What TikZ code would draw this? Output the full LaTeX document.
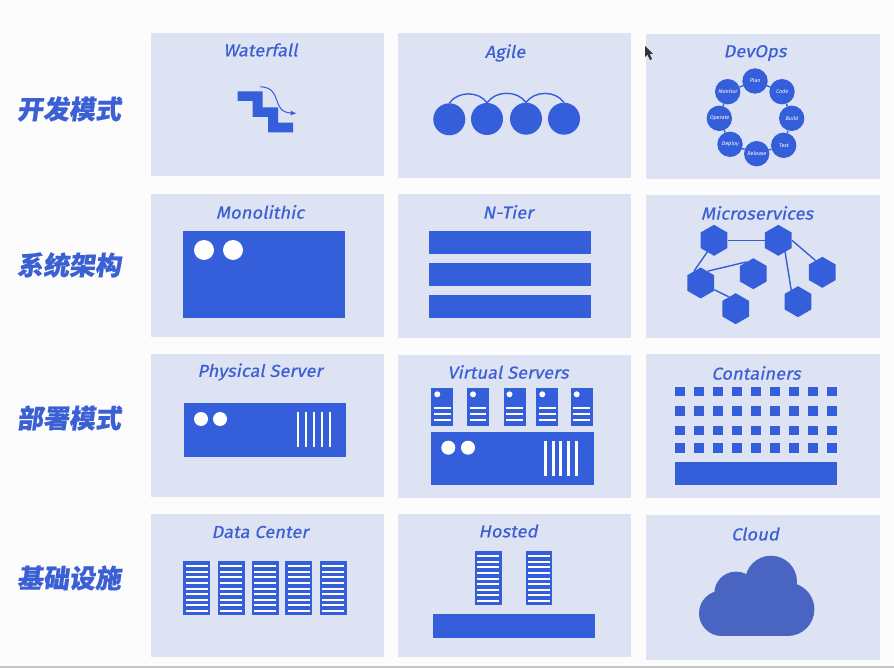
\documentclass[tikz,border=0pt]{standalone}
\usepackage{fontspec}
\usepackage{xcolor}
\usetikzlibrary{arrows.meta, shapes.geometric}
\setmainfont{Fira Sans}
\newfontfamily\titlefont[FakeSlant=0.2, FakeStretch=1.06, FakeBold=0.5]{Fira Sans}
\newfontfamily\stagefont[FakeSlant=0.2]{Fira Sans}
\newfontfamily\cjk[FakeSlant=0.14, FakeBold=0.5]{Noto Sans CJK SC}
\definecolor{figB}{RGB}{53,94,219}
\definecolor{figT}{RGB}{58,96,212}
\definecolor{figP}{RGB}{222,227,244}
\definecolor{figC}{RGB}{74,100,194}
\definecolor{figW}{RGB}{252,252,252}
\tikzset{
  panel/.style={fill=figP},
  paneltitle/.style={font=\titlefont\fontsize{17.3}{19}\selectfont, text=figT, inner sep=0pt},
  rowlabel/.style={font=\cjk\bfseries\fontsize{26}{28}\selectfont, text=figT, inner sep=0pt},
  solid box/.style={fill=figB},
  slot/.style={fill=white},
  stagedot/.style={circle, fill=figB, minimum size=25.4pt, inner sep=0pt, text=white,
    font=\stagefont\fontsize{5.4}{6}\selectfont},
  hexnode/.style={regular polygon, regular polygon sides=6, shape border rotate=30,
    fill=figB, minimum size=31pt, inner sep=0pt},
  linkline/.style={draw=figB, line width=1.4pt},
}
\begin{document}
\begin{tikzpicture}[x=1pt, y=-1pt]
\fill[figW] (0,0) rectangle (894,668);
\useasboundingbox (0,0) rectangle (894,668);
\fill[black!22] (0,665.5) rectangle (894,668);
% ===== panels and their headings =====
\foreach \xa/\ya/\xb/\yb/\tx/\ty/\ttl/\nm in {
  151/33/384/176/260.5/50/Waterfall/waterfall, 398/33/631/178/505/53/Agile/agile, 646/34/880/179/755/53/DevOps/devops,
  151/194/384/337/260/212/Monolithic/mono, 398/194/631/338/508/212/N-Tier/ntier, 646/195/880/338/757/213/Microservices/micro,
  151/354/384/497/260/372/Physical Server/physical, 398/355/631/498/508/372/Virtual Servers/virtual, 646/354/880/498/756/373/Containers/containers,
  151/514/384/657/260/532/Data Center/datacenter, 398/514/631/657/508/531/Hosted/hosted, 646/515/880/660/755/534/Cloud/cloud}{
  \fill[panel] (\xa,\ya) rectangle (\xb,\yb);
  \node[paneltitle] (title-\nm) at (\tx,\ty) {\ttl};
}
% ===== row labels =====
\node[rowlabel] (row-dev) at (69,109) {开发模式};
\node[rowlabel] (row-arch) at (69,265) {系统架构};
\node[rowlabel] (row-deploy) at (69,418) {部署模式};
\node[rowlabel] (row-infra) at (69,578) {基础设施};
% ===== waterfall: stairs and falling arrow =====
\fill[figB] (237.7,91.3) -- (262.7,91.3) -- (262.7,107.3) -- (278,107.3) -- (278,122.7) -- (293,122.7)
  -- (293,132.3) -- (268,132.3) -- (268,117) -- (252.7,117) -- (252.7,101) -- (237.7,101) -- cycle;
\draw[-{Latex[length=6pt,width=5pt]}, figB, line width=1pt] (260.3,86.7) .. controls (284,88) and (270,112) .. (296.7,113.3);
% ===== agile: four iterations =====
\foreach \n/\x/\y in {1/449.3/119.3, 2/487/119, 3/526/118.7, 4/564/118.7}
  \node[circle, fill=figB, minimum size=32pt, inner sep=0pt] (it\n) at (\x,\y) {};
\draw[linkline] (it1.north) to[out=55, in=125] (it2.north);
\draw[linkline] (it2.north) to[out=55, in=125] (it3.north);
\draw[linkline] (it3.north) to[out=55, in=125] (it4.north);
% ===== devops ring =====
\foreach \nm/\x/\y in {Plan/755/81, Code/782/91.7, Build/791.7/118.3, Test/783.7/145.3,
  Release/756.7/153.7, Deploy/730/144.3, Operate/719.3/118.3, Monitor/727.7/91.7}
  \node[stagedot] (stage-\nm) at (\x,\y) {\nm};
\draw[linkline] (stage-Plan) -- (stage-Code);
\draw[linkline] (stage-Code) -- (stage-Build);
\draw[linkline] (stage-Build) -- (stage-Test);
\draw[linkline] (stage-Test) -- (stage-Release);
\draw[linkline] (stage-Release) -- (stage-Deploy);
\draw[linkline] (stage-Deploy) -- (stage-Operate);
\draw[linkline] (stage-Operate) -- (stage-Monitor);
\draw[linkline] (stage-Monitor) -- (stage-Plan);
% ===== monolithic =====
\fill[solid box] (183,231) rectangle (345,318);
\fill[white] (204,250) circle (10) (233,250) circle (10);
% ===== n-tier =====
\foreach \ya/\yb in {231/254, 263/286, 295/318}
  \fill[solid box] (429,\ya) rectangle (591,\yb);
% ===== microservices =====
\foreach \nm/\x/\y in {a/714/240.3, b/778.3/240.3, c/822.3/272.3, d/753.3/273.7, e/700.7/283, f/798/301.7, g/735.7/308.7}
  \node[hexnode] (hex-\nm) at (\x,\y) {};
\draw[linkline] (hex-a) -- (hex-b);
\draw[linkline] (hex-a.240) -- (hex-e.120);
\draw[linkline] (hex-e.60) -- (hex-d.120);
\draw[linkline] (hex-e) -- (hex-g.120);
\draw[linkline] (hex-b.300) -- (hex-f.120);
\draw[linkline] (hex-b.0) -- (hex-c.120);
% ===== physical server =====
\fill[solid box] (184,403) rectangle (346,457);
\fill[white] (201,419) circle (7) (220,419) circle (7);
\foreach \x in {298,306,314,322,330}
  \fill[slot] (\x-1.3,412) rectangle (\x+1.3,447);
% ===== virtual servers =====
\fill[solid box] (431.3,431.7) rectangle (593.7,485.3);
\fill[white] (448.3,447.7) circle (7) (468,447.7) circle (7);
\foreach \x in {545.3,553.3,560.7,568.7,576.3}
  \fill[slot] (\x-1.3,440.7) rectangle (\x+1.3,475.7);
\foreach \x in {431.3,467,503.5,536.3,570.7}{
  \fill[solid box] (\x,387.7) rectangle (\x+22,426.3);
  \fill[white] (\x+6,394.3) circle (3);
  \foreach \y in {408.3,414,419.7}
    \fill[slot] (\x+2.7,\y-1.1) rectangle (\x+19.3,\y+1.1);
}
% ===== containers =====
\foreach \y in {391.3,411,430.3,447.7}
  \foreach \i in {0,...,8}
    \fill[solid box] (679.7+19*\i-4.8,\y-4.8) rectangle (679.7+19*\i+4.8,\y+4.8);
\fill[solid box] (675,461.7) rectangle (837.3,485.3);
% ===== data center =====
\foreach \x in {183.3,217.5,251.6,285.3,319.6}{
  \fill[solid box] (\x,561) rectangle (\x+27,615.3);
  \foreach \i in {0,...,8}
    \fill[slot] (\x+2.3,566.3+5.55*\i-1) rectangle (\x+24.7,566.3+5.55*\i+1);
}
% ===== hosted =====
\foreach \x in {475,525.7}{
  \fill[solid box] (\x,551) rectangle (\x+26.7,605);
  \foreach \i in {0,...,8}
    \fill[slot] (\x+2.3,556.3+5.55*\i-1) rectangle (\x+24.4,556.3+5.55*\i+1);
}
\fill[solid box] (432.7,614) rectangle (595.3,638.3);
% ===== cloud: lobes first, then the flat base =====
\foreach \x/\y/\r in {771/581.7/26, 736/593.3/21.7, 721.7/613.3/22.7, 787.7/609.3/26.7}
  \fill[figC] (\x,\y) circle (\r);
\fill[figC] (721.7,600) rectangle (787.7,636);
% ===== pointer =====
\fill[black!80] (645,46) -- (645,57) -- (647.5,54.7) -- (650,60) -- (652,59) -- (649.7,54) -- (653,54) -- cycle;
\end{tikzpicture}
\end{document}
